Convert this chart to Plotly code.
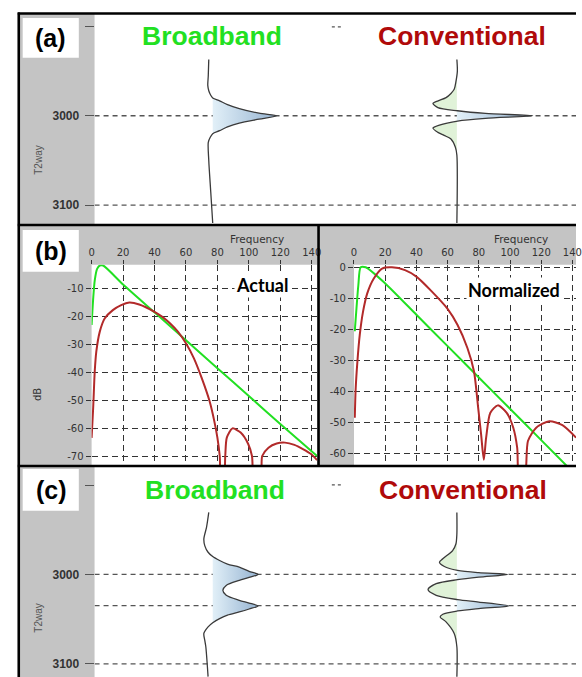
import plotly.graph_objects as go

W, H = 582, 677

# ---------------- data ----------------
track_names = ["Broadband", "Conventional"]
track_pos = [1, 2]

# panel (a): single reflector -- two-way time (ms) and trace amplitude
t_bb_a = [2937, 2955, 2966, 2972, 2977, 2980, 2983.3, 2987.5, 2991.9, 2997.1, 3000,
          3003.8, 3008.2, 3012.5, 3016.7, 3020, 3024, 3029.7, 3050, 3085, 3120]
amp_bb_a = [-0.04, -0.045, -0.05, -0.04, -0.02, 0.0, 0.07, 0.15, 0.27, 0.47, 0.65,
            0.47, 0.27, 0.15, 0.07, 0.0, -0.025, -0.045, -0.04, -0.02, 0.0]
t_cv_a = [2937, 2950, 2962, 2970.4, 2975, 2979.7, 2983.3, 2986.3, 2990.8, 2994.4, 2997.4, 3000,
          3002.9, 3005.9, 3010.4, 3013.8, 3018.6, 3022, 3026, 3035.2, 3044, 3120]
amp_cv_a = [0.0, 0.005, -0.01, -0.027, -0.06, -0.11, -0.19, -0.243, -0.193, 0.007, 0.29, 0.77,
            0.29, 0.007, -0.177, -0.243, -0.193, -0.13, -0.06, -0.015, 0.0, 0.0]

# panel (c): two reflectors
t_bb_c = [2930.6, 2947.3, 2960.2, 2968, 2975.2, 2980, 2984.4, 2988.5, 2991.9, 2996.5, 3000,
          3003.4, 3006.7, 3012.3, 3017.8, 3023.4, 3029, 3032, 3035.3, 3038.7, 3042, 3045.5,
          3049.4, 3054, 3058.7, 3066.1, 3074, 3081, 3114.4]
amp_bb_c = [-0.04, -0.063, -0.09, -0.08, -0.047, 0.0, 0.07, 0.15, 0.27, 0.37, 0.46,
            0.37, 0.27, 0.137, 0.103, 0.137, 0.27, 0.37, 0.46, 0.37, 0.27, 0.15,
            0.07, 0.0, -0.047, -0.09, -0.08, -0.07, -0.047]
t_cv_c = [2930.6, 2954.7, 2966, 2973.3, 2982.5, 2986.3, 2991.1, 2995.5, 2998.1, 3000, 3003,
          3005.9, 3010.4, 3017, 3023.4, 3028.2, 3030.9, 3035.3, 3038.2, 3040.9, 3044.6, 3047.6,
          3053.1, 3066.1, 3081, 3114.4]
amp_cv_c = [0.0, 0.0, -0.01, -0.043, -0.143, -0.177, -0.127, 0.007, 0.223, 0.515, 0.223,
            0.007, -0.21, -0.293, -0.21, 0.007, 0.223, 0.525, 0.223, 0.007, -0.143, -0.17,
            -0.11, -0.027, 0.0, 0.0]

horizons_a = [3000, 3100]
horizons_c = [3000, 3035, 3100]
time_ticks = [2900, 3000, 3100]
time_ticktext = ["", "<b>3000</b>", "<b>3100</b>"]

# panel (b): amplitude spectra (Hz, dB)
f_bb_act = [0, 1, 2, 3.5, 5.2, 7.3, 20, 40, 60, 80, 100, 120, 143.4]
db_bb_act = [-23, -13.6, -7, -2.9, -1.7, -1.7, -8.5, -18.5, -28.5, -38.5, -48.5, -58.5, -70]
f_cv_act = [0, 1, 2, 3, 5.2, 8.3, 13.5, 18.8, 24, 30.3, 40, 45, 50, 55, 60, 65, 70, 75, 78, 80,
            81.5, 82.5, 84, 85, 86, 89.6, 94.8, 99.6, 102, 103.5, 107.5, 108.5, 112.5, 117.7,
            123, 129, 134.4, 139.6, 143.4]
db_cv_act = [-63.5, -52.7, -39.6, -32.5, -25.4, -20.7, -17.7, -15.9, -15.0, -15.7, -18.3, -20.1,
             -22.5, -25.5, -29.6, -34.9, -42, -50.3, -57.4, -63.4, -70, -80, -80, -70, -63.4,
             -60.1, -61.6, -65.7, -70, -80, -80, -70, -67, -65.5, -65.2, -66, -67.5, -69.3, -71.5]
f_bb_norm = [0.5, 1.6, 2.8, 4.3, 7.5, 20, 40, 60, 80, 100, 120, 142.3]
db_bb_norm = [-20.6, -13.2, -5.7, 0, 0, -5.2, -15.3, -25.4, -35.5, -45.6, -55.7, -67]
f_cv_norm = [0.5, 1.1, 2.2, 3.7, 5.8, 8.5, 12.7, 18, 24.3, 32.7, 40, 49.5, 60, 66.4, 72.7, 76.9,
             79.6, 81.5, 83.2, 84.7, 87.4, 92.2, 97.9, 102.1, 104.6, 106, 109.3, 111.5, 116.8,
             125.2, 133.6, 142.3]
db_cv_norm = [-48.5, -38.9, -30.3, -21.8, -14.3, -8.4, -3.6, -0.4, 0, -0.9, -3, -7.6, -13.4,
              -18.6, -26, -33.5, -45.3, -53.9, -62, -54.9, -46.9, -44.5, -46.9, -51.7, -58.1,
              -68, -68, -56, -51.7, -49.6, -50.9, -54.9]
freq_ticks = [0, 20, 40, 60, 80, 100, 120, 140]
db_ticks_act = [-10, -20, -30, -40, -50, -60, -70]
db_ticks_norm = [0, -10, -20, -30, -40, -50, -60]

# ---------------- styling ----------------
GREEN = "#22e022"
RED_TXT = "#b00a0a"
RED_LINE = "#b22a2a"
WIG = "#3a3a3a"
GAIN = 100 / 248.0
FONT = "Liberation Sans, Arial, sans-serif"
SMALL = "DejaVu Sans, sans-serif"
BLUE_GRAD = [[0, "#e2f0f8"], [1, "#96b4d2"]]


def px(x):
    return x / W


def py(y):
    return 1 - y / H


fig = go.Figure()

wig_range = [0.5161, 2.4879]


def wiggle(ts, amps, pos, xa, ya, neg_fill):
    base = [pos] * len(ts)
    xs = [pos + a * GAIN for a in amps]
    pos_x = [pos + max(a, 0) * GAIN for a in amps]
    neg_x = [pos + min(a, 0) * GAIN for a in amps]
    fig.add_trace(go.Scatter(x=base, y=ts, mode="lines", line=dict(width=0, shape="spline"),
                             xaxis=xa, yaxis=ya, hoverinfo="skip", showlegend=False))
    fig.add_trace(go.Scatter(x=pos_x, y=ts, mode="lines", line=dict(width=0, shape="spline"),
                             fill="tonextx", fillcolor="#bcd3e6",
                             fillgradient=dict(type="horizontal", colorscale=BLUE_GRAD),
                             xaxis=xa, yaxis=ya, hoverinfo="skip", showlegend=False))
    if neg_fill:
        fig.add_trace(go.Scatter(x=base, y=ts, mode="lines", line=dict(width=0, shape="spline"),
                                 xaxis=xa, yaxis=ya, hoverinfo="skip", showlegend=False))
        fig.add_trace(go.Scatter(x=neg_x, y=ts, mode="lines", line=dict(width=0, shape="spline"),
                                 fill="tonextx", fillcolor="#e0f2d8",
                                 xaxis=xa, yaxis=ya, hoverinfo="skip", showlegend=False))
    fig.add_trace(go.Scatter(x=xs, y=ts, mode="lines",
                             line=dict(color=WIG, width=1.3, shape="spline", smoothing=0.8),
                             xaxis=xa, yaxis=ya, hoverinfo="skip", showlegend=False))


def horizons(times, xa, ya):
    for tv in times:
        fig.add_trace(go.Scatter(x=wig_range, y=[tv, tv], mode="lines",
                                 line=dict(color="#555555", width=1.3, dash="5px,4px"),
                                 xaxis=xa, yaxis=ya, hoverinfo="skip", showlegend=False))


horizons(horizons_a, "x", "y")
wiggle(t_bb_a, amp_bb_a, track_pos[0], "x", "y", False)
wiggle(t_cv_a, amp_cv_a, track_pos[1], "x", "y", True)
horizons(horizons_c, "x4", "y4")
wiggle(t_bb_c, amp_bb_c, track_pos[0], "x4", "y4", False)
wiggle(t_cv_c, amp_cv_c, track_pos[1], "x4", "y4", True)

for f, d, c, xa, ya in [(f_bb_act, db_bb_act, GREEN, "x2", "y2"),
                        (f_cv_act, db_cv_act, RED_LINE, "x2", "y2"),
                        (f_bb_norm, db_bb_norm, GREEN, "x3", "y3"),
                        (f_cv_norm, db_cv_norm, RED_LINE, "x3", "y3")]:
    fig.add_trace(go.Scatter(x=f, y=d, mode="lines", line=dict(color=c, width=2, shape="spline", smoothing=0.7),
                             xaxis=xa, yaxis=ya, hoverinfo="skip", showlegend=False))

# ---------------- axes ----------------
time_axis = dict(tickvals=time_ticks, ticktext=time_ticktext, ticks="outside", ticklen=9,
                 tickcolor="#555", tickwidth=1.2, tickfont=dict(family=FONT, size=12, color="#333"),
                 showgrid=False, zeroline=False, showline=False, ticklabelstandoff=3)
wig_x = dict(range=wig_range, visible=False, fixedrange=True)

grid = dict(showgrid=True, gridcolor="#333", gridwidth=1.2, griddash="6px,4px", zeroline=False,
            showline=False, ticks="outside", tickcolor="#333", tickwidth=1,
            tickfont=dict(family=SMALL, size=10, color="#333"), ticklabeloverflow="allow")

fig.update_layout(
    xaxis=dict(domain=[px(93), 1], anchor="y", **wig_x),
    yaxis=dict(domain=[py(221.5), py(11.5)], range=[3120.6, 2886.6], anchor="x", **time_axis),
    xaxis4=dict(domain=[px(93), 1], anchor="y4", **wig_x),
    yaxis4=dict(domain=[0, py(466)], range=[3114.8, 2879.7], anchor="x4", **time_axis),
    xaxis2=dict(domain=[px(90), px(319)], range=[0, 143.4], anchor="y2", side="top",
                tickvals=freq_ticks, ticklen=4, **grid),
    yaxis2=dict(domain=[py(464), py(263)], range=[-73.2, -1.46], anchor="x2",
                tickvals=db_ticks_act, ticktext=[str(v) for v in db_ticks_act], ticklen=5, **grid),
    xaxis3=dict(domain=[px(356.5), 1], range=[0, 142.3], anchor="y3", side="top",
                tickvals=freq_ticks, ticklen=4, **grid),
    yaxis3=dict(domain=[py(464), py(263)], range=[-63.7, 0.8], anchor="x3",
                tickvals=db_ticks_norm, ticktext=[str(v) for v in db_ticks_norm], ticklen=5, **grid),
)

# ---------------- shapes ----------------
GRAY = "#c4c4c4"
shapes = []


def rect(x0, y0, x1, y1, color, layer="below"):
    shapes.append(dict(type="rect", xref="paper", yref="paper", x0=px(x0), x1=px(x1),
                       y0=py(y1), y1=py(y0), fillcolor=color, line=dict(width=0), layer=layer))


rect(16, 10, 93, 222, GRAY)
rect(16, 223, 582, 465, GRAY)
rect(90, 263, 319, 464, "white")
rect(356.5, 263, 582, 464, "white")
rect(16, 465, 93, 677, GRAY)
rect(20, 15, 77, 55, "white")
rect(20, 228, 77, 270, "white")
rect(20, 468, 77, 510, "white")


def seg(x0, x1, y0, y1, color="black", width=2.6, dash=None):
    ln = dict(color=color, width=width)
    if dash:
        ln["dash"] = dash
    shapes.append(dict(type="line", xref="paper", yref="paper", x0=px(x0), x1=px(x1),
                       y0=py(y0), y1=py(y1), line=ln, layer="above"))


seg(15, 582, 10.5, 10.5)
seg(15, 582, 223, 223)
seg(15, 582, 465, 465)
seg(16, 16, 9.5, 677)
seg(320.5, 320.5, 223, 465)
# small tick stubs of the second track's time axis
seg(334, 344, 24, 24, "#555", 1.2, "3px,3px")
seg(334, 344, 484, 484, "#555", 1.2, "3px,3px")

# ---------------- annotations ----------------
ann = []


def text(x, y, s, size, color="black", family=FONT, angle=0, bg=None):
    d = dict(x=px(x), y=py(y), xref="paper", yref="paper", text=s, showarrow=False,
             font=dict(family=family, size=size, color=color), xanchor="center", yanchor="middle",
             textangle=angle)
    if bg:
        d.update(bgcolor=bg, borderpad=1)
    ann.append(d)


text(48, 35.5, "<b>(a)</b>", 25)
text(48.5, 249, "<b>(b)</b>", 25)
text(49, 489.5, "<b>(c)</b>", 25)
text(212.5, 33, "<b>" + track_names[0] + "</b>", 26.5, GREEN)
text(466, 33, "<b>" + track_names[1] + "</b>", 26.5, RED_TXT)
text(215, 489, "<b>" + track_names[0] + "</b>", 26.5, GREEN)
text(467, 489, "<b>" + track_names[1] + "</b>", 26.5, RED_TXT)
text(36.5, 157.5, "T2way", 10, "#555", angle=-90)
text(36.5, 617.5, "T2way", 10, "#555", angle=-90)
text(258.3, 237.5, "Frequency", 10.5, "#333", SMALL)
text(525.7, 237.5, "Frequency", 10.5, "#333", SMALL)
text(35, 393.3, "dB", 10, "#333", SMALL, angle=-90)
text(263.3, 283.5, "<b>Actual</b>", 18, "black", "Lato, sans-serif", bg="white")
text(519, 288, "<b>Normalized</b>", 18, "black", "Lato, sans-serif", bg="white")

fig.update_layout(width=W, height=H, autosize=False, margin=dict(l=0, r=0, t=0, b=0),
                  paper_bgcolor="white", plot_bgcolor="white", shapes=shapes, annotations=ann,
                  showlegend=False)

fig.write_html("out.html", config={"displayModeBar": False},
               post_script="document.body.style.margin='0';document.body.style.overflow='hidden';")
